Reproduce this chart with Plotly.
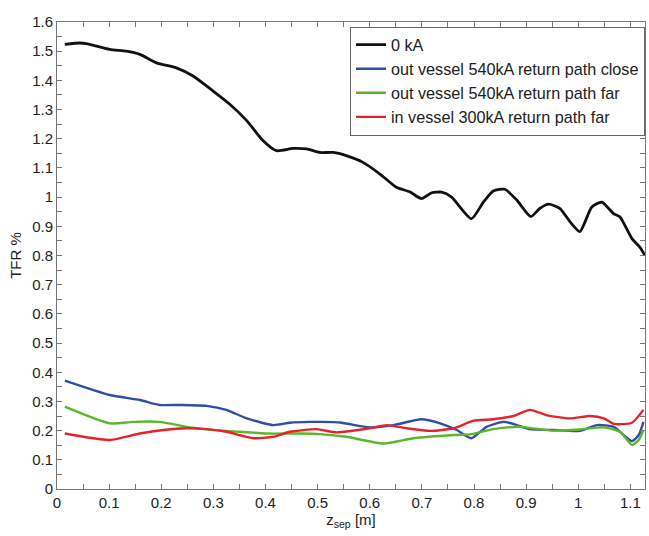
import plotly.graph_objects as go

# Black: 0 kA
x_black = [0.015, 0.044, 0.056, 0.101, 0.133, 0.159, 0.191, 0.229, 0.261, 0.299, 0.331, 0.364,
           0.395, 0.421, 0.453, 0.479, 0.504, 0.530, 0.555, 0.587, 0.619, 0.651, 0.677, 0.699,
           0.719, 0.738, 0.757, 0.795, 0.818, 0.837, 0.859, 0.882, 0.909, 0.926, 0.943, 0.965,
           0.984, 1.003, 1.026, 1.045, 1.068, 1.080, 1.103, 1.118, 1.128]
y_black = [1.523, 1.528, 1.526, 1.506, 1.500, 1.489, 1.460, 1.443, 1.415, 1.364, 1.319, 1.262,
           1.194, 1.159, 1.167, 1.165, 1.153, 1.153, 1.142, 1.119, 1.080, 1.034, 1.018, 0.995,
           1.015, 1.017, 1.000, 0.926, 0.983, 1.021, 1.027, 0.990, 0.933, 0.961, 0.976, 0.961,
           0.916, 0.882, 0.966, 0.983, 0.943, 0.932, 0.858, 0.829, 0.800]

# Blue: out vessel 540kA return path close
x_blue = [0.015, 0.101, 0.159, 0.197, 0.236, 0.287, 0.325, 0.364, 0.415, 0.447, 0.485, 0.504,
          0.543, 0.600, 0.646, 0.699, 0.735, 0.767, 0.795, 0.824, 0.857, 0.882, 0.907, 0.952,
          1.003, 1.036, 1.068, 1.103, 1.116, 1.125]
y_blue = [0.371, 0.322, 0.305, 0.288, 0.288, 0.285, 0.271, 0.242, 0.219, 0.227, 0.230, 0.230,
          0.228, 0.211, 0.219, 0.239, 0.225, 0.202, 0.174, 0.213, 0.230, 0.219, 0.205, 0.202,
          0.199, 0.219, 0.213, 0.164, 0.185, 0.230]

# Green: out vessel 540kA return path far
x_green = [0.015, 0.101, 0.146, 0.197, 0.249, 0.299, 0.351, 0.402, 0.466, 0.504, 0.555, 0.626,
           0.684, 0.761, 0.795, 0.837, 0.888, 0.952, 1.003, 1.049, 1.080, 1.103, 1.116, 1.125]
y_green = [0.282, 0.225, 0.230, 0.230, 0.213, 0.202, 0.196, 0.190, 0.190, 0.188, 0.179, 0.156,
           0.174, 0.185, 0.188, 0.205, 0.213, 0.200, 0.204, 0.211, 0.196, 0.151, 0.168, 0.202]

# Red: in vessel 300kA return path far
x_red = [0.015, 0.101, 0.159, 0.204, 0.249, 0.287, 0.325, 0.377, 0.415, 0.447, 0.498, 0.536,
         0.600, 0.633, 0.671, 0.716, 0.761, 0.799, 0.837, 0.876, 0.907, 0.939, 0.984, 1.023,
         1.049, 1.068, 1.103, 1.125]
y_red = [0.190, 0.168, 0.190, 0.202, 0.208, 0.205, 0.196, 0.174, 0.179, 0.196, 0.205, 0.194,
         0.208, 0.219, 0.208, 0.199, 0.208, 0.234, 0.239, 0.250, 0.271, 0.253, 0.242, 0.250,
         0.242, 0.223, 0.227, 0.271]

names = ["0 kA", "out vessel 540kA return path close",
         "out vessel 540kA return path far", "in vessel 300kA return path far"]
colors = ["#111111", "#2f4fa6", "#5bb62c", "#e6232b"]

FONT = "Liberation Sans, Arial, sans-serif"

fig = go.Figure()
for xs, ys, nm, c, w in [(x_black, y_black, names[0], colors[0], 2.8),
                         (x_blue, y_blue, names[1], colors[1], 2.4),
                         (x_green, y_green, names[2], colors[2], 2.4),
                         (x_red, y_red, names[3], colors[3], 2.4)]:
    fig.add_trace(go.Scatter(x=xs, y=ys, mode="lines", name=nm,
                             line=dict(color=c, width=w, shape="spline", smoothing=0.6)))

axis_common = dict(
    showline=True, linecolor="#777777", linewidth=1, mirror="ticks",
    ticks="inside", ticklen=5, tickcolor="#777777", showgrid=False, zeroline=False,
    automargin=False,
    tickfont=dict(family=FONT, size=15, color="#222222"),
    minor=dict(ticks="inside", ticklen=5, tickcolor="#777777", dtick=0.05, showgrid=False),
)

fig.update_xaxes(range=[0, 1.128], dtick=0.1, tick0=0,
                 title=dict(text="z<sub>sep</sub> [m]", standoff=4,
                            font=dict(family=FONT, size=15, color="#222222")),
                 **axis_common)
fig.update_yaxes(range=[0, 1.6], dtick=0.1, tick0=0,
                 title=dict(text="TFR %", standoff=6,
                            font=dict(family=FONT, size=15, color="#222222")),
                 **axis_common)

fig.update_layout(
    width=649, height=536,
    margin=dict(l=57, r=4, t=22, b=47),
    paper_bgcolor="white", plot_bgcolor="white",
    showlegend=True,
    legend=dict(x=1, y=0.99, xanchor="right", yanchor="top",
                bgcolor="white", bordercolor="#666666", borderwidth=1,
                font=dict(family=FONT, size=16.2, color="#222222"),
                tracegroupgap=0, itemwidth=30),
)

fig.write_html("out.html", config={"displayModeBar": False},
               post_script="document.body.style.margin='0px';document.body.style.overflow='hidden';")
